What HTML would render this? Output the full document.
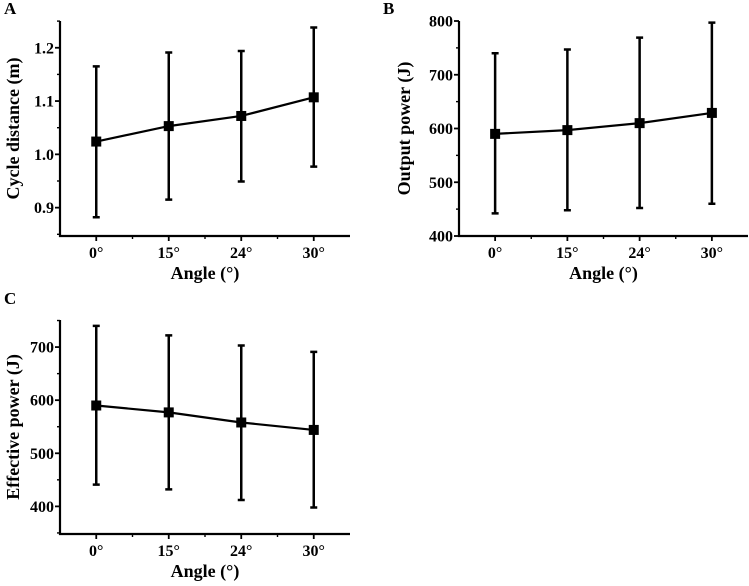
<!DOCTYPE html>
<html><head><meta charset="utf-8"><style>
body{margin:0;background:#fff}
svg text{font-family:"Liberation Serif",serif;font-weight:bold;fill:#000}
</style></head><body>
<svg id="fig" width="749" height="581" viewBox="0 0 749 581"></svg>
<script>
const categories=["0°","15°","24°","30°"];
const aMean=[1.024,1.053,1.072,1.107];
const aUpper=[1.165,1.191,1.194,1.238];
const aLower=[0.882,0.915,0.949,0.977];
const aTicks=[0.9,1.0,1.1,1.2];
const aTickLabels=["0.9","1.0","1.1","1.2"];
const bMean=[590,597,610,629];
const bUpper=[740,747,769,797];
const bLower=[442,448,452,460];
const bTicks=[400,500,600,700,800];
const bTickLabels=["400","500","600","700","800"];
const cMean=[590,577,558,544];
const cUpper=[740,722,703,691];
const cLower=[441,432,412,398];
const cTicks=[400,500,600,700];
const cTickLabels=["400","500","600","700"];

const NS="http://www.w3.org/2000/svg";
const svg=document.getElementById('fig');
function el(tag,attrs,parent){const e=document.createElementNS(NS,tag);for(const k in attrs)e.setAttribute(k,attrs[k]);(parent||svg).appendChild(e);return e;}

function panel(p){
  const g=el('g',{});
  
  
  const y=v=>p.y1-(v-p.vmin)/(p.vmax-p.vmin)*(p.y1-p.y0);
  const bw=(p.x1-p.x0)/categories.length;
  const x=i=>p.x0+bw*(i+0.5);
  const L=el('text',{x:p.lx,y:p.ly,'font-size':17},g);L.textContent=p.letter;
  
  
  const ax=el('path',{d:`M${p.x0},${p.y0}V${p.y1}H${p.x1}`,stroke:'#000','stroke-width':2.2,fill:'none'},g);
  
  
  const step=p.ticks[1]-p.ticks[0];
  for(let i=0;i<p.ticks.length;i++){
    const t=p.ticks[i],yy=y(t);
    el('line',{x1:p.x0-5,x2:p.x0,y1:yy,y2:yy,stroke:'#000','stroke-width':1.8},g);
    const tx=el('text',{x:p.x0-6,y:yy+5.5,'font-size':16,'text-anchor':'end'},g);
    tx.textContent=p.labels[i];
    
    
  }
  for(let v=p.ticks[0]-step/2;v<=p.vmax+1e-9;v+=step){
    if(v<p.vmin)continue;const yy=y(v);
    el('line',{x1:p.x0-3,x2:p.x0,y1:yy,y2:yy,stroke:'#000','stroke-width':1.4},g);
  }
  for(let i=0;i<categories.length;i++){
    el('line',{x1:x(i),x2:x(i),y1:p.y1,y2:p.y1+5,stroke:'#000','stroke-width':1.8},g);
    if(i<categories.length-1)el('line',{x1:p.x0+bw*(i+1),x2:p.x0+bw*(i+1),y1:p.y1,y2:p.y1+3,stroke:'#000','stroke-width':1.4},g);
    const tx=el('text',{x:x(i),y:p.y1+22,'font-size':16,'text-anchor':'middle'},g);
    tx.textContent=categories[i];
    
    
  }
  const xt=el('text',{x:(p.x0+p.x1)/2,y:p.y1+43,'font-size':18,'text-anchor':'middle'},g);
  xt.textContent='Angle (°)';
  
  
  const cy=(p.y0+p.y1)/2;
  const yt=el('text',{x:p.tx,y:cy,'font-size':18,'text-anchor':'middle',transform:`rotate(-90 ${p.tx} ${cy})`},g);
  yt.textContent=p.title;
  
  
  for(let i=0;i<categories.length;i++){
    const eb=el('path',{d:`M${x(i)},${y(p.up[i])}V${y(p.lo[i])}M${x(i)-3.5},${y(p.up[i])}h7M${x(i)-3.5},${y(p.lo[i])}h7`,stroke:'#000','stroke-width':2.5,fill:'none'},g);
    
    
  }
  const ln=el('polyline',{points:p.mean.map((v,i)=>x(i)+','+y(v)).join(' '),stroke:'#000','stroke-width':2.2,fill:'none'},g);
  
  
  for(let i=0;i<categories.length;i++){
    const m=el('rect',{x:x(i)-5,y:y(p.mean[i])-5,width:10,height:10,fill:'#000'},g);
    
    
  }
}
panel({letter:'A',lx:4,ly:14,x0:60,x1:350,y0:21,y1:236,vmin:0.8468,vmax:1.2502,ticks:aTicks,labels:aTickLabels,mean:aMean,up:aUpper,lo:aLower,title:'Cycle distance (m)',tx:19});
panel({letter:'B',lx:383,ly:14,x0:459,x1:748,y0:21,y1:236,vmin:400,vmax:800,ticks:bTicks,labels:bTickLabels,mean:bMean,up:bUpper,lo:bLower,title:'Output power (J)',tx:410});
panel({letter:'C',lx:4,ly:304,x0:60,x1:350,y0:320,y1:534,vmin:348,vmax:751,ticks:cTicks,labels:cTickLabels,mean:cMean,up:cUpper,lo:cLower,title:'Effective power (J)',tx:19});
</script>
</body></html>
